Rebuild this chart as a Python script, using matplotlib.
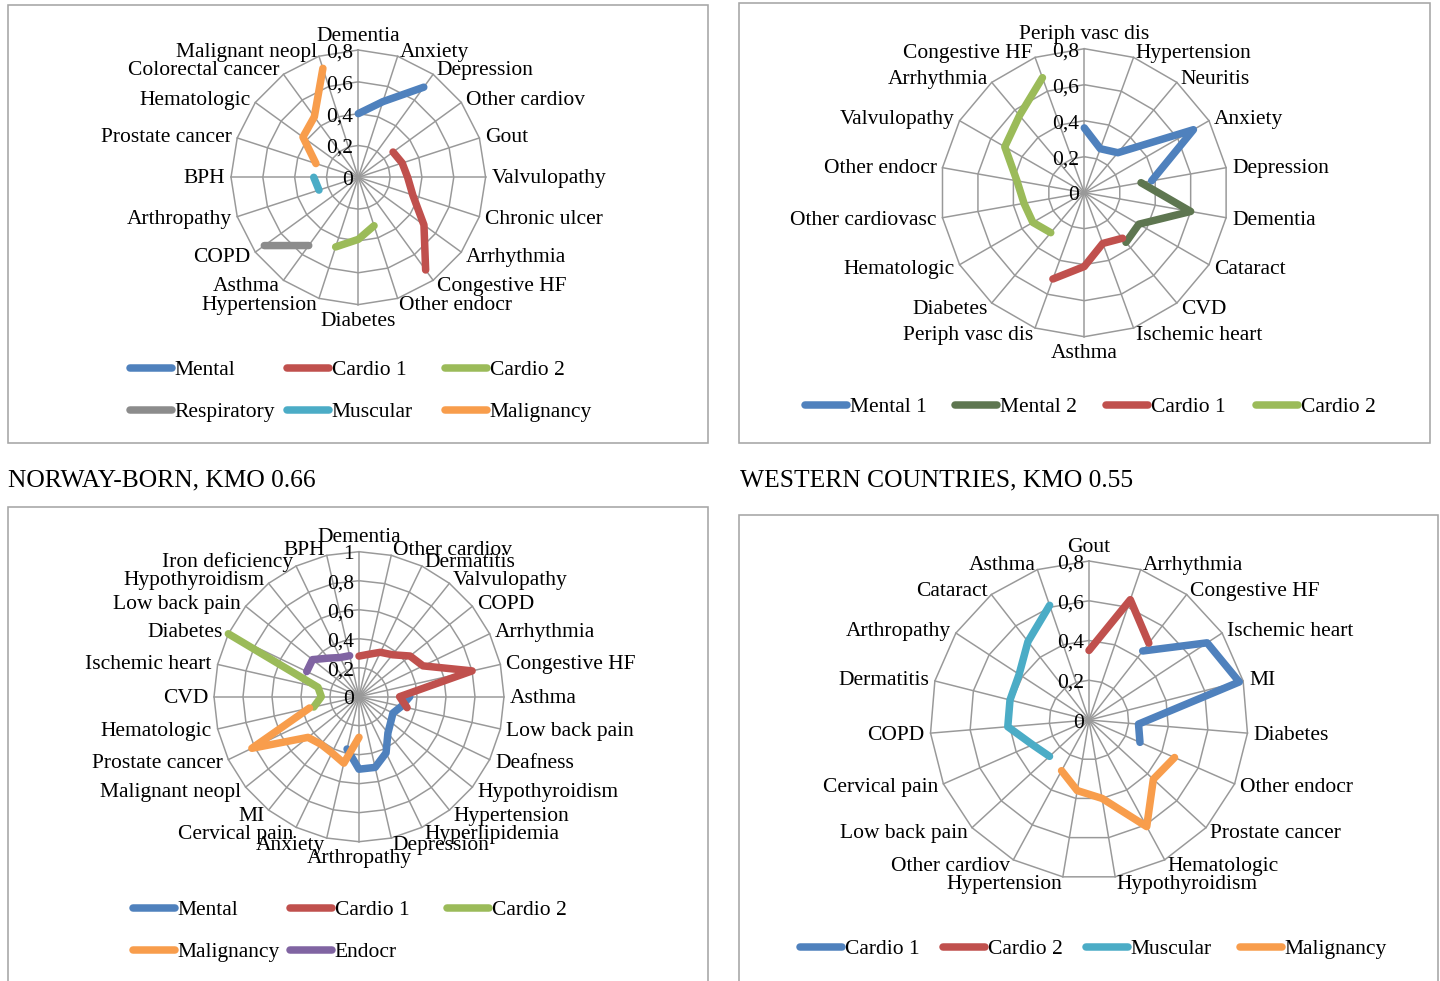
import numpy as np
import matplotlib
matplotlib.use("Agg")
import matplotlib.pyplot as plt
from matplotlib.lines import Line2D
from matplotlib.patches import Rectangle

plt.rcParams['font.family'] = ['Liberation Serif', 'DejaVu Serif']

N = None
# ---------------- Panel 1 (top-left) ----------------
cats1 = ["Dementia", "Anxiety", "Depression", "Other cardiov", "Gout", "Valvulopathy",
         "Chronic ulcer", "Arrhythmia", "Congestive HF", "Other endocr", "Diabetes",
         "Hypertension", "Asthma", "COPD", "Arthropathy", "BPH", "Prostate cancer",
         "Hematologic", "Colorectal cancer", "Malignant neopl"]
p1_mental = [0.40, 0.50, 0.70, N, N, N, N, N, N, N, N, N, N, N, N, N, N, N, N, N]
p1_cardio1 = [N, N, N, 0.27, 0.29, 0.31, 0.36, 0.51, 0.72, N, N, N, N, N, N, N, N, N, N, N]
p1_cardio2 = [N, N, N, N, N, N, N, N, N, 0.32, 0.39, 0.46, N, N, N, N, N, N, N, N]
p1_resp = [N, N, N, N, N, N, N, N, N, N, N, N, 0.53, 0.73, N, N, N, N, N, N]
p1_musc = [N, N, N, N, N, N, N, N, N, N, N, N, N, N, 0.26, 0.28, N, N, N, N]
p1_malig = [N, N, N, N, N, N, N, N, N, N, N, N, N, N, N, N, 0.28, 0.43, 0.47, 0.72]
ticks1 = [0, 0.2, 0.4, 0.6, 0.8]
ticklabels1 = ["0", "0,2", "0,4", "0,6", "0,8"]

# ---------------- Panel 2 (top-right) ----------------
cats2 = ["Periph vasc dis", "Hypertension", "Neuritis", "Anxiety", "Depression", "Dementia",
         "Cataract", "CVD", "Ischemic heart", "Asthma", "Periph vasc dis", "Diabetes",
         "Hematologic", "Other cardiovasc", "Other endocr", "Valvulopathy", "Arrhythmia",
         "Congestive HF"]
p2_mental1 = [0.36, 0.26, 0.29, 0.70, 0.38, N, N, N, N, N, N, N, N, N, N, N, N, N]
p2_mental2 = [N, N, N, N, 0.32, 0.60, 0.35, 0.36, N, N, N, N, N, N, N, N, N, N]
p2_cardio1 = [N, N, N, N, N, N, N, 0.33, 0.30, 0.41, 0.51, N, N, N, N, N, N, N]
p2_cardio2 = [N, N, N, N, N, N, N, N, N, N, N, 0.29, 0.33, 0.34, 0.38, 0.51, 0.56, 0.68]
ticks2 = [0, 0.2, 0.4, 0.6, 0.8]
ticklabels2 = ["0", "0,2", "0,4", "0,6", "0,8"]

# ---------------- Panel 3 (bottom-left) ----------------
cats3 = ["Dementia", "Other cardiov", "Dermatitis", "Valvulopathy", "COPD", "Arrhythmia",
         "Congestive HF", "Asthma", "Low back pain", "Deafness", "Hypothyroidism",
         "Hypertension", "Hyperlipidemia", "Depression", "Arthropathy", "Anxiety",
         "Cervical pain", "MI", "Malignant neopl", "Prostate cancer", "Hematologic", "CVD",
         "Ischemic heart", "Diabetes", "Low back pain", "Hypothyroidism", "Iron deficiency",
         "BPH"]
p3_mental = [N, N, N, N, N, N, N, 0.35, 0.30, 0.26, 0.28, 0.32, 0.43, 0.50, 0.50, 0.37,
             N, N, N, N, N, N, N, N, N, N, N, N]
p3_cardio1 = [0.28, 0.30, 0.34, 0.37, 0.45, 0.49, 0.80, 0.28, 0.34, N, N, N, N, N, N, N,
              N, N, N, N, N, N, N, N, N, N, N, N]
p3_cardio2 = [N, N, N, N, N, N, N, N, N, N, N, N, N, N, N, N, N, N, N, N, 0.32, 0.26,
              0.29, 1.00, N, N, N, N]
p3_malig = [N, N, N, N, N, N, N, N, N, N, N, N, N, N, 0.28, 0.47, 0.43, 0.42, 0.45, 0.82,
            0.35, N, N, N, N, N, N, N]
p3_endocr = [N, N, N, N, N, N, N, N, N, N, N, N, N, N, N, N, N, N, N, N, N, N, N, 0.40,
             0.41, 0.34, 0.30, 0.29]
ticks3 = [0, 0.2, 0.4, 0.6, 0.8, 1.0]
ticklabels3 = ["0", "0,2", "0,4", "0,6", "0,8", "1"]

# ---------------- Panel 4 (bottom-right) ----------------
cats4 = ["Gout", "Arrhythmia", "Congestive HF", "Ischemic heart", "MI", "Diabetes",
         "Other endocr", "Prostate cancer", "Hematologic", "Hypothyroidism", "Hypertension",
         "Other cardiov", "Low back pain", "Cervical pain", "COPD", "Dermatitis",
         "Arthropathy", "Cataract", "Asthma"]
p4_cardio1 = [N, N, 0.44, 0.71, 0.78, 0.25, 0.28, N, N, N, N, N, N, N, N, N, N, N, N]
p4_cardio2 = [0.35, 0.64, 0.49, N, N, N, N, N, N, N, N, N, N, N, N, N, N, N, N]
p4_musc = [N, N, N, N, N, N, N, N, N, N, N, N, 0.27, 0.31, 0.41, 0.41, 0.42, 0.50, 0.61]
p4_malig = [N, N, N, N, N, N, 0.47, 0.44, 0.61, 0.40, 0.36, 0.29, N, N, N, N, N, N, N]
ticks4 = [0, 0.2, 0.4, 0.6, 0.8]
ticklabels4 = ["0", "0,2", "0,4", "0,6", "0,8"]

titles = ["NORWAY-BORN, KMO 0.66", "WESTERN COUNTRIES, KMO 0.55"]

BLUE, RED, GREEN = "#4F81BD", "#C0504D", "#9BBB59"
PURPLE, AQUA, ORANGE = "#8064A2", "#4BACC6", "#F89D4C"
GRAY, DKGREEN = "#8C8C8C", "#5E7650"
GRID = "#999999"

W, H = 1440, 981
fig = plt.figure(figsize=(W / 100, H / 100), dpi=100)
PT = 72 / 100.0
FS = 21.5 * PT
LW = 7.5 * PT


def radar(cx, cy, R, cats, ticks, ticklabels, series):
    n = len(cats)
    rmax = ticks[-1]
    ax = fig.add_axes([(cx - R) / W, 1 - (cy + R) / H, 2 * R / W, 2 * R / H],
                      projection='polar')
    ax.set_theta_zero_location('N')
    ax.set_theta_direction(-1)
    ax.set_ylim(0, rmax)
    ax.grid(False)
    ax.spines['polar'].set_visible(False)
    ax.set_xticks([])
    ax.set_yticks([])
    ax.patch.set_alpha(0)
    theta = np.arange(n) * 2 * np.pi / n
    closed = np.append(theta, theta[0])
    for t in ticks[1:]:
        ax.plot(closed, [t] * (n + 1), color=GRID, lw=1.5 * PT, zorder=1, clip_on=False)
    for th in theta:
        ax.plot([th, th], [0, rmax], color=GRID, lw=1.5 * PT, zorder=1, clip_on=False)
    for t, lab in zip(ticks, ticklabels):
        ax.annotate(lab, xy=(0, t), xytext=(-5 * PT, -3 * PT), textcoords='offset points',
                    ha='right', va='center', fontsize=FS, zorder=2)
    for th, lab in zip(theta, cats):
        s, c = np.sin(th), np.cos(th)
        off = 6
        if abs(s) < 0.05:
            ha = 'center'
            va = 'bottom' if c > 0 else 'top'
        else:
            ha = 'left' if s > 0 else 'right'
            va = 'center'
        ax.annotate(lab, xy=(th, rmax), xytext=(off * s * PT, (off * c - 1.5) * PT),
                    textcoords='offset points', ha=ha, va=va, fontsize=FS,
                    annotation_clip=False)
    for vals, color, name in series:
        v = np.array([np.nan if x is None else x for x in vals], dtype=float)
        ax.plot(theta, v, color=color, lw=LW, solid_capstyle='round',
                solid_joinstyle='round', zorder=3, clip_on=False)
    return ax


def legend_entry(x, y, color, name):
    h = Line2D([], [], color=color, lw=LW, solid_capstyle='round')
    fig.legend([h], [name], loc='center left', bbox_to_anchor=(x / W, 1 - y / H),
               frameon=False, fontsize=FS, handlelength=1.95, handletextpad=0.12,
               borderpad=0, borderaxespad=0)


def box(x0, y0, x1, y1):
    fig.add_artist(Rectangle((x0 / W, 1 - y1 / H), (x1 - x0) / W, (y1 - y0) / H,
                             transform=fig.transFigure, fill=False,
                             edgecolor='#A6A6A6', lw=1.6 * PT))


# Panel borders
box(8, 5, 708, 443)
box(739, 3, 1430, 443)
box(8, 507, 708, 990)
box(739, 515, 1438, 990)

# Panel 1
radar(358.3, 177.3, 127.3, cats1, ticks1, ticklabels1,
      [(p1_mental, BLUE, "Mental"), (p1_cardio1, RED, "Cardio 1"),
       (p1_cardio2, GREEN, "Cardio 2"), (p1_resp, GRAY, "Respiratory"),
       (p1_musc, AQUA, "Muscular"), (p1_malig, ORANGE, "Malignancy")])
for (x, y, c, nm) in [(130, 370, BLUE, "Mental"), (287, 370, RED, "Cardio 1"),
                      (445, 370, GREEN, "Cardio 2"), (130, 412, GRAY, "Respiratory"),
                      (287, 412, AQUA, "Muscular"), (445, 412, ORANGE, "Malignancy")]:
    legend_entry(x, y, c, nm)

# Panel 2
radar(1084.3, 192.7, 144, cats2, ticks2, ticklabels2,
      [(p2_mental1, BLUE, "Mental 1"), (p2_mental2, DKGREEN, "Mental 2"),
       (p2_cardio1, RED, "Cardio 1"), (p2_cardio2, GREEN, "Cardio 2")])
for (x, y, c, nm) in [(805, 407, BLUE, "Mental 1"), (955, 407, DKGREEN, "Mental 2"),
                      (1106, 407, RED, "Cardio 1"), (1256, 407, GREEN, "Cardio 2")]:
    legend_entry(x, y, c, nm)

# Titles
fig.text(8 / W, 1 - 480 / H, titles[0], fontsize=25.5 * PT, va='center', ha='left')
fig.text(740 / W, 1 - 480 / H, titles[1], fontsize=25.5 * PT, va='center', ha='left')

# Panel 3
radar(359, 696.7, 145, cats3, ticks3, ticklabels3,
      [(p3_mental, BLUE, "Mental"), (p3_cardio1, RED, "Cardio 1"),
       (p3_cardio2, GREEN, "Cardio 2"), (p3_malig, ORANGE, "Malignancy"),
       (p3_endocr, PURPLE, "Endocr")])
for (x, y, c, nm) in [(133, 910, BLUE, "Mental"), (290, 910, RED, "Cardio 1"),
                      (447, 910, GREEN, "Cardio 2"), (133, 952, ORANGE, "Malignancy"),
                      (290, 952, PURPLE, "Endocr")]:
    legend_entry(x, y, c, nm)

# Panel 4
radar(1089, 720, 159, cats4, ticks4, ticklabels4,
      [(p4_cardio1, BLUE, "Cardio 1"), (p4_cardio2, RED, "Cardio 2"),
       (p4_musc, AQUA, "Muscular"), (p4_malig, ORANGE, "Malignancy")])
for (x, y, c, nm) in [(800, 949, BLUE, "Cardio 1"), (943, 949, RED, "Cardio 2"),
                      (1086, 949, AQUA, "Muscular"), (1240, 949, ORANGE, "Malignancy")]:
    legend_entry(x, y, c, nm)

fig.savefig("out.png", dpi=100)
